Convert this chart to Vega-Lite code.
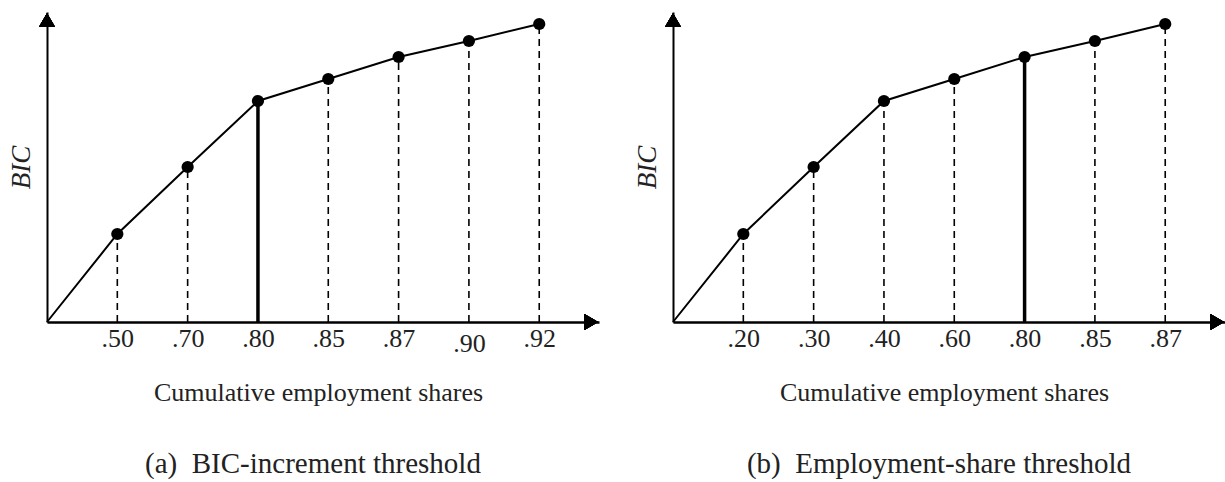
{
  "$schema": "https://vega.github.io/schema/vega-lite/v6.json",
  "padding": {"left": 7, "top": 12, "right": 0, "bottom": 0},
  "config": {"font": "Liberation Serif", "view": {"stroke": null}, "axis": {"grid": false}},
  "datasets": {
    "a": [
      {"i": 0, "share": "", "bic": 0, "threshold": false},
      {"i": 1, "share": ".50", "bic": 88, "threshold": false},
      {"i": 2, "share": ".70", "bic": 155, "threshold": false},
      {"i": 3, "share": ".80", "bic": 221, "threshold": true},
      {"i": 4, "share": ".85", "bic": 243, "threshold": false},
      {"i": 5, "share": ".87", "bic": 265, "threshold": false},
      {"i": 6, "share": ".90", "bic": 281, "threshold": false},
      {"i": 7, "share": ".92", "bic": 298, "threshold": false}
    ],
    "b": [
      {"i": 0, "share": "", "bic": 0, "threshold": false},
      {"i": 1, "share": ".20", "bic": 88, "threshold": false},
      {"i": 2, "share": ".30", "bic": 155, "threshold": false},
      {"i": 3, "share": ".40", "bic": 221, "threshold": false},
      {"i": 4, "share": ".60", "bic": 243, "threshold": false},
      {"i": 5, "share": ".80", "bic": 265, "threshold": true},
      {"i": 6, "share": ".85", "bic": 281, "threshold": false},
      {"i": 7, "share": ".87", "bic": 298, "threshold": false}
    ]
  },
  "spacing": 34,
  "hconcat": [
    {
      "width": 552,
      "height": 310,
      "title": {"text": "(a)\u00a0 BIC-increment threshold", "orient": "bottom", "fontSize": 29, "fontWeight": "normal", "color": "#222", "offset": 45, "dx": -10},
      "data": {"name": "a"},
      "encoding": {
        "x": {"field": "i", "type": "quantitative", "scale": {"domain": [0, 7.85], "nice": false, "zero": true},
          "axis": {"values": [1, 2, 3, 4, 5, 6, 7], "labelExpr": "['', '.50', '.70', '.80', '.85', '.87', '.90', '.92'][datum.value]",
            "ticks": false, "domainColor": "black", "domainWidth": 2.5, "labelFontSize": 26, "labelColor": "#222",
            "labelPadding": {"condition": {"test": "datum.value === 6", "value": 8}, "value": 3},
            "title": "Cumulative employment shares", "titleFontSize": 26, "titleFontWeight": "normal", "titleColor": "#222", "titlePadding": 23, "titleX": 271}},
        "y": {"field": "bic", "type": "quantitative", "scale": {"domain": [0, 310], "nice": false},
          "axis": {"ticks": false, "labels": false, "domainColor": "black", "domainWidth": 2,
            "title": "BIC", "titleFontSize": 27, "titleFontStyle": "italic", "titleFontWeight": "normal", "titleColor": "#222", "titlePadding": 12}}
      },
      "layer": [
        {"transform": [{"filter": "datum.i > 0 && !datum.threshold"}], "mark": {"type": "rule", "strokeDash": [7, 5], "strokeWidth": 1.6, "color": "black"}, "encoding": {"y": {"datum": 0}, "y2": {"field": "bic"}}},
        {"transform": [{"filter": "datum.threshold"}], "mark": {"type": "rule", "strokeWidth": 3.5, "color": "black"}, "encoding": {"y": {"datum": 0}, "y2": {"field": "bic"}}},
        {"mark": {"type": "line", "strokeWidth": 2, "color": "black"}, "encoding": {}},
        {"transform": [{"filter": "datum.i > 0"}], "mark": {"type": "point", "filled": true, "size": 150, "color": "black", "opacity": 1}, "encoding": {}},
        {"mark": {"type": "point", "shape": "triangle-right", "filled": true, "size": 250, "color": "black", "opacity": 1}, "encoding": {"x": {"datum": 7.74}, "y": {"datum": 0}}},
        {"mark": {"type": "point", "shape": "triangle-up", "filled": true, "size": 250, "color": "black", "opacity": 1}, "encoding": {"x": {"datum": 0}, "y": {"datum": 302}}}
      ]
    },
    {
      "width": 552,
      "height": 310,
      "title": {"text": "(b)\u00a0 Employment-share threshold", "orient": "bottom", "fontSize": 29, "fontWeight": "normal", "color": "#222", "offset": 45, "dx": -10},
      "data": {"name": "b"},
      "encoding": {
        "x": {"field": "i", "type": "quantitative", "scale": {"domain": [0, 7.85], "nice": false, "zero": true},
          "axis": {"values": [1, 2, 3, 4, 5, 6, 7], "labelExpr": "['', '.20', '.30', '.40', '.60', '.80', '.85', '.87'][datum.value]",
            "ticks": false, "domainColor": "black", "domainWidth": 2.5, "labelFontSize": 26, "labelColor": "#222", "labelPadding": 3,
            "title": "Cumulative employment shares", "titleFontSize": 26, "titleFontWeight": "normal", "titleColor": "#222", "titlePadding": 28, "titleX": 271}},
        "y": {"field": "bic", "type": "quantitative", "scale": {"domain": [0, 310], "nice": false},
          "axis": {"ticks": false, "labels": false, "domainColor": "black", "domainWidth": 2,
            "title": "BIC", "titleFontSize": 27, "titleFontStyle": "italic", "titleFontWeight": "normal", "titleColor": "#222", "titlePadding": 12}}
      },
      "layer": [
        {"transform": [{"filter": "datum.i > 0 && !datum.threshold"}], "mark": {"type": "rule", "strokeDash": [7, 5], "strokeWidth": 1.6, "color": "black"}, "encoding": {"y": {"datum": 0}, "y2": {"field": "bic"}}},
        {"transform": [{"filter": "datum.threshold"}], "mark": {"type": "rule", "strokeWidth": 3.5, "color": "black"}, "encoding": {"y": {"datum": 0}, "y2": {"field": "bic"}}},
        {"mark": {"type": "line", "strokeWidth": 2, "color": "black"}, "encoding": {}},
        {"transform": [{"filter": "datum.i > 0"}], "mark": {"type": "point", "filled": true, "size": 150, "color": "black", "opacity": 1}, "encoding": {}},
        {"mark": {"type": "point", "shape": "triangle-right", "filled": true, "size": 250, "color": "black", "opacity": 1}, "encoding": {"x": {"datum": 7.74}, "y": {"datum": 0}}},
        {"mark": {"type": "point", "shape": "triangle-up", "filled": true, "size": 250, "color": "black", "opacity": 1}, "encoding": {"x": {"datum": 0}, "y": {"datum": 302}}}
      ]
    }
  ]
}
